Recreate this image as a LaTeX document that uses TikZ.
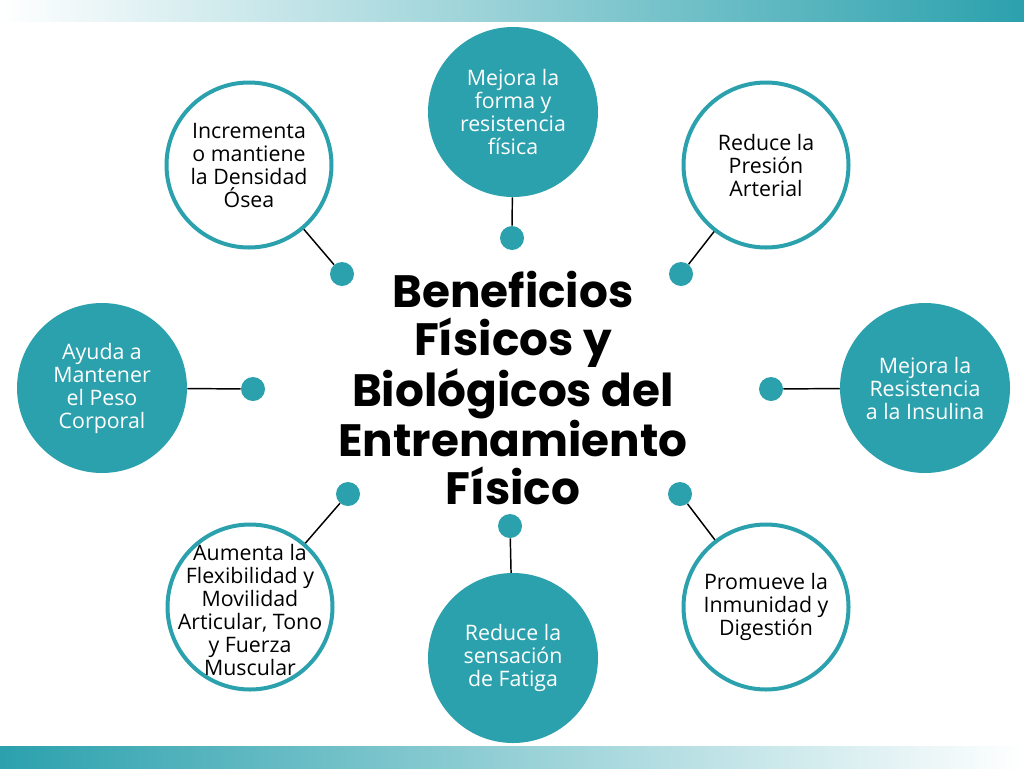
\documentclass[tikz,border=0pt]{standalone}
\usepackage{fontspec}
\setmainfont{Open Sans}
\newfontfamily\titlefont{Poppins}
\definecolor{benteal}{RGB}{43,161,173}

\begin{document}
\begin{tikzpicture}[x=0.75pt,y=-0.75pt,
        full/.style={circle,fill=benteal,text=white,inner sep=0pt,minimum size=127.5pt,align=center,
            font=\fontsize{16}{17.25}\selectfont},
        ring/.style={circle,draw=benteal,line width=3pt,fill=white,text=black,inner sep=0pt,minimum size=123.75pt,align=center,
            font=\fontsize{16}{17.25}\selectfont},
        ringtext/.style={align=center,inner sep=0pt,font=\fontsize{16}{17.25}\selectfont},
        dot/.style={circle,fill=benteal,inner sep=0pt,minimum size=18pt},
        link/.style={draw=black,line width=1.1pt}]
    \useasboundingbox (0,0) rectangle (1024,768);
    \shade[left color=white,right color=benteal] (0,0) rectangle (1024,21);
    \shade[left color=benteal,right color=white] (0,746) rectangle (1024,768);

    \node[align=center,font=\titlefont\bfseries\fontsize{34}{36}\selectfont] (titulo) at (513,388)
        {Beneficios\\Físicos y\\Biológicos del\\Entrenamiento\\Físico};

    \node[full] (forma) at (513,112) {Mejora la\\forma y\\resistencia\\física};
    \node[ring] (densidad) at (249,165) {Incrementa\\o mantiene\\la Densidad\\Ósea};
    \node[ring] (presion) at (766,165) {Reduce la\\Presión\\Arterial};
    \node[full] (peso) at (102,388) {Ayuda a\\Mantener\\el Peso\\Corporal};
    \node[full] (insulina) at (925,388) {Mejora la\\Resistencia\\a la Insulina};
    \node[ring] (flexib) at (250,607) {};
    \node[ringtext] (flexibtxt) at (250,610) {Aumenta la\\Flexibilidad y\\Movilidad\\Articular, Tono\\y Fuerza\\Muscular};
    \node[full] (fatiga) at (513,658) {Reduce la\\sensación\\de Fatiga};
    \node[ring] (inmunidad) at (766,607) {Promueve la\\Inmunidad y\\Digestión};

    \node[dot] (dforma) at (512,238) {};
    \node[dot] (ddensidad) at (342,274) {};
    \node[dot] (dpresion) at (681,274) {};
    \node[dot] (dpeso) at (253,389) {};
    \node[dot] (dinsulina) at (771,389) {};
    \node[dot] (dflexib) at (348,494) {};
    \node[dot] (dfatiga) at (510,526) {};
    \node[dot] (dinmunidad) at (680,494) {};

    \foreach \n in {forma,densidad,presion,peso,insulina,flexib,fatiga,inmunidad}
        \draw[link] (d\n) -- (\n);
\end{tikzpicture}
\end{document}
